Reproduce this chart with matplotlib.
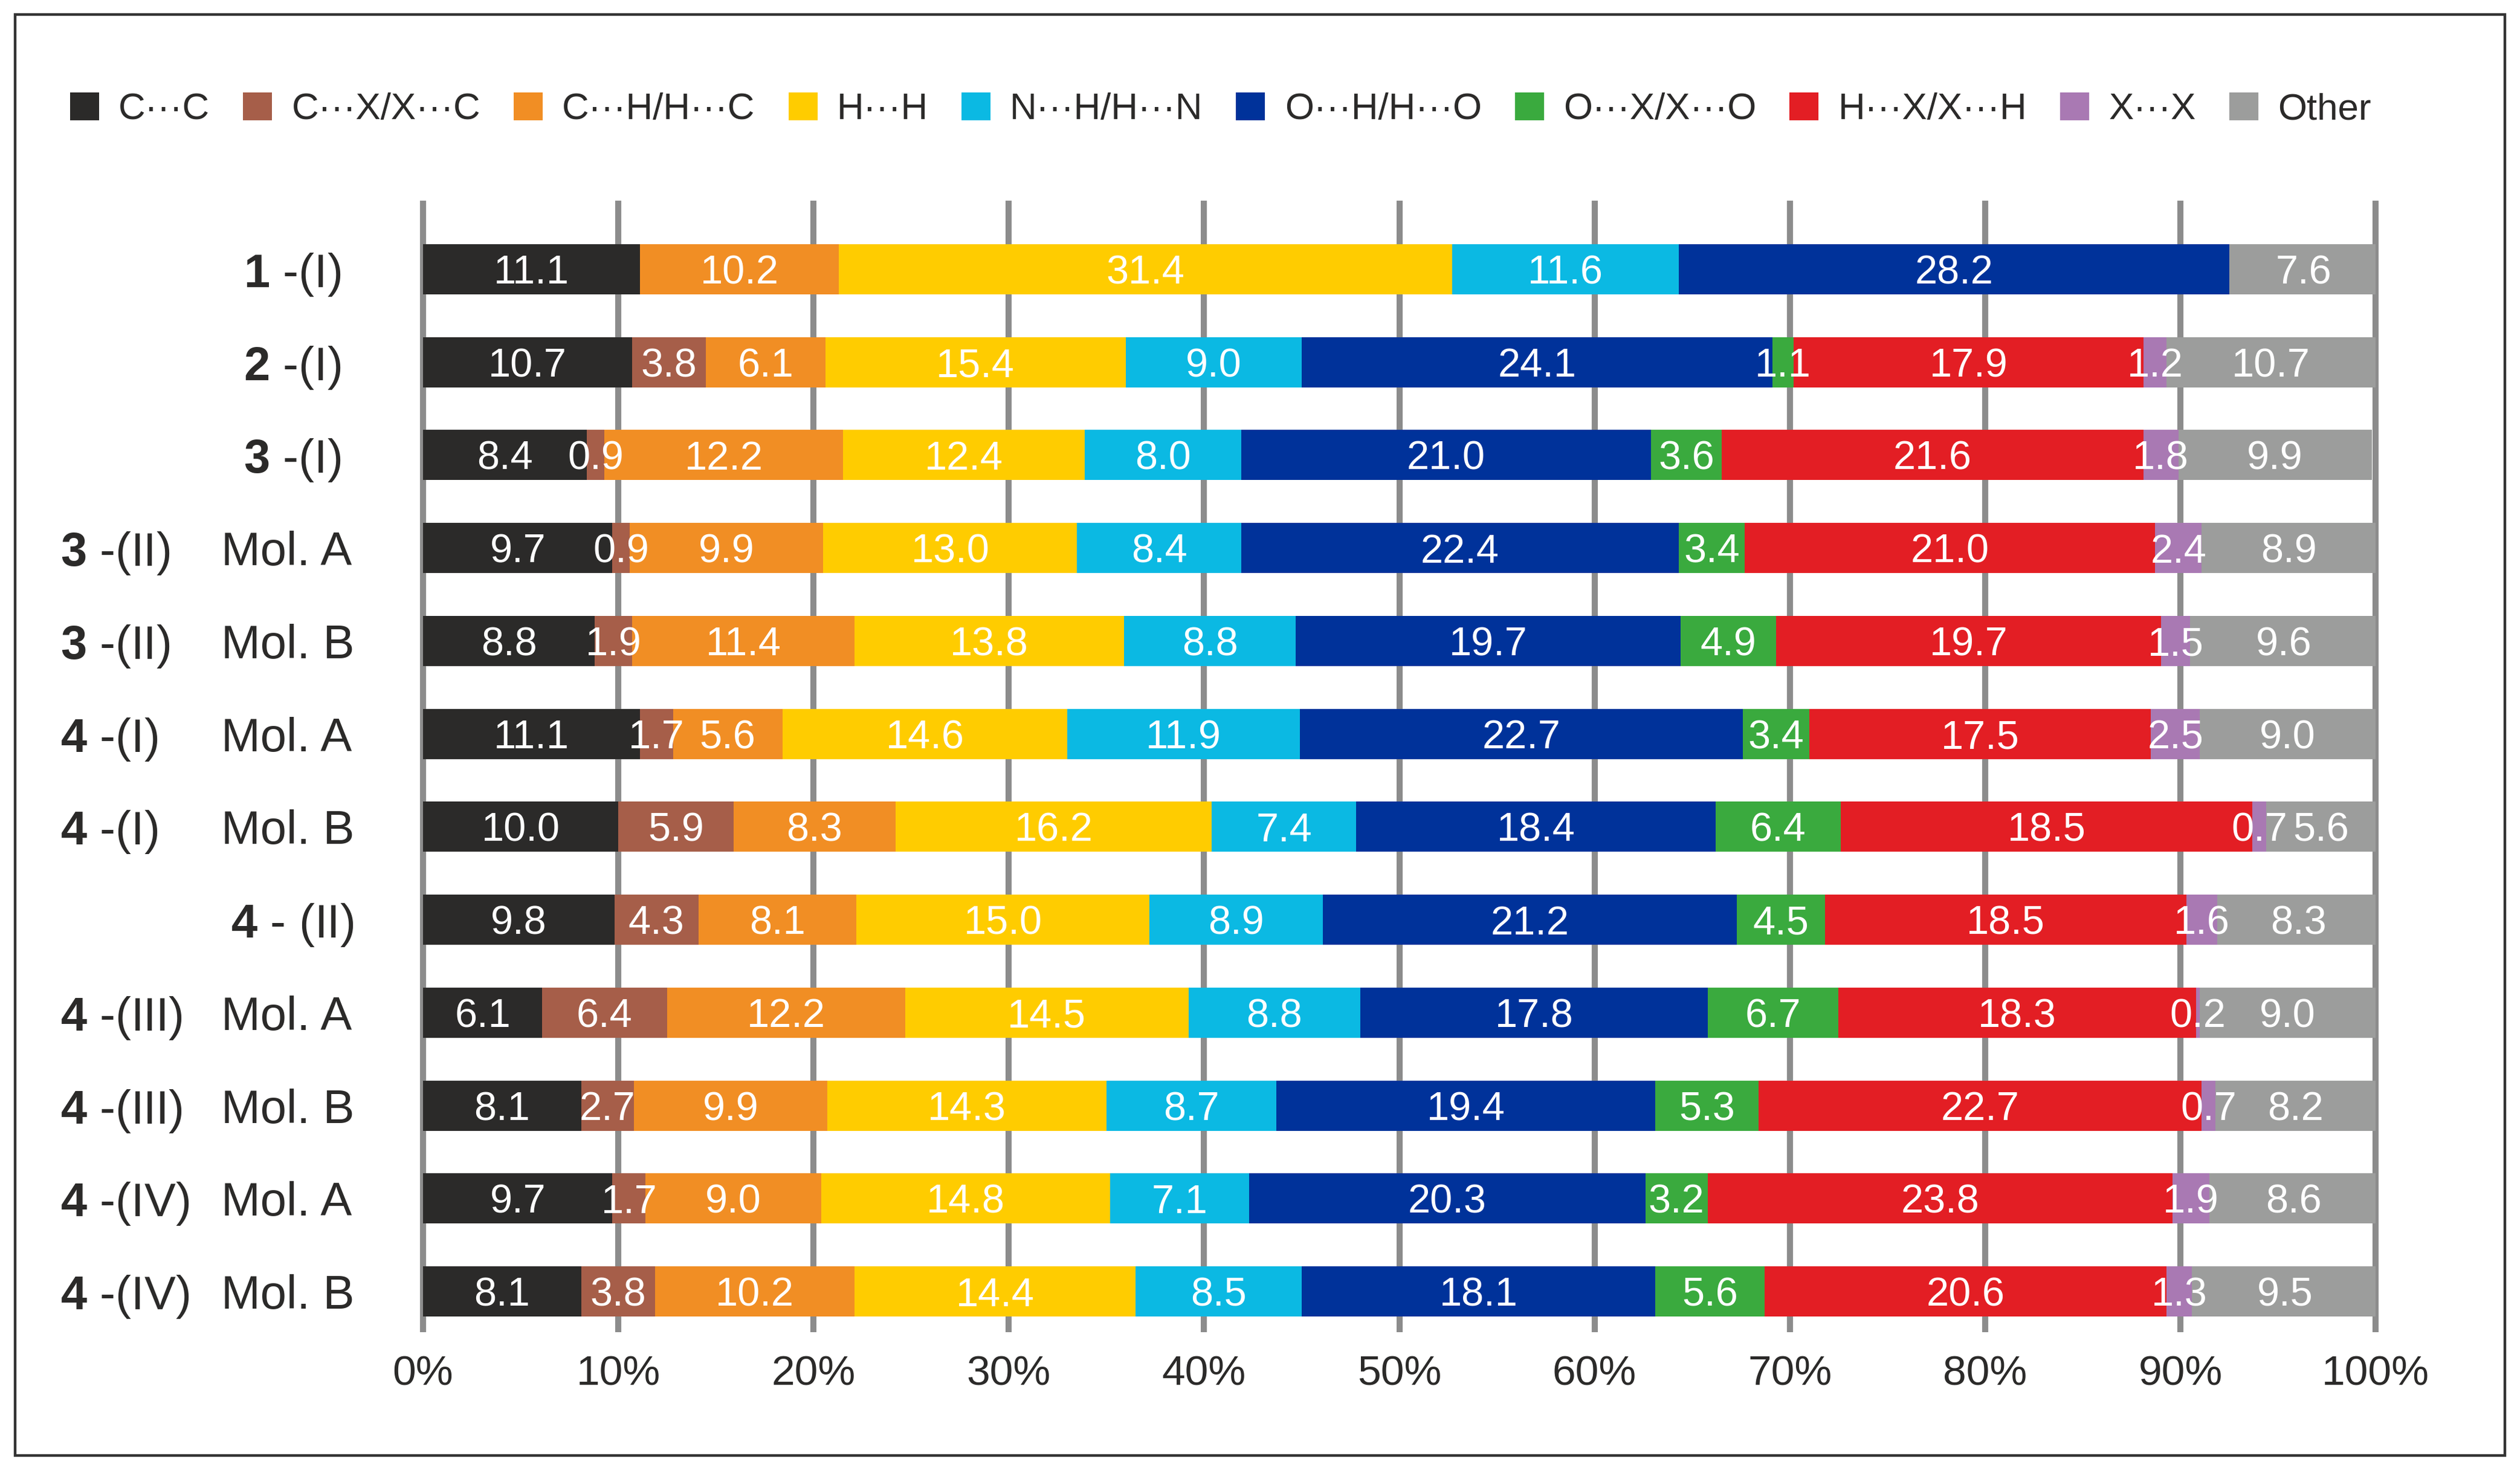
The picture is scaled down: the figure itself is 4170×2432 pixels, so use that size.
import matplotlib
matplotlib.use("Agg")
import matplotlib.pyplot as plt
import matplotlib.transforms as mtransforms
from matplotlib.patches import Patch, Rectangle
import numpy as np

plt.rcParams['font.family'] = ['Liberation Sans', 'DejaVu Sans']
plt.rcParams['mathtext.fontset'] = 'custom'
plt.rcParams['mathtext.rm'] = 'Liberation Sans'
plt.rcParams['mathtext.bf'] = 'Liberation Sans:bold'

# ---------------- data ----------------
compounds = ['1', '2', '3', '3', '3', '4', '4', '4', '4', '4', '4', '4']
forms = [' -(I)', ' -(I)', ' -(I)', ' -(II)', ' -(II)', ' -(I)', ' -(I)',
         ' - (II)', ' -(III)', ' -(III)', ' -(IV)', ' -(IV)']
molecules = ['', '', '', 'Mol. A', 'Mol. B', 'Mol. A', 'Mol. B', '',
             'Mol. A', 'Mol. B', 'Mol. A', 'Mol. B']

series_names = ['C···C', 'C···X/X···C', 'C···H/H···C', 'H···H', 'N···H/H···N',
                'O···H/H···O', 'O···X/X···O', 'H···X/X···H', 'X···X', 'Other']
series_colors = ['#2b2a29', '#a65e49', '#f18e24', '#ffcc00', '#0bb9e3',
                 '#00329a', '#3aaa3e', '#e31e24', '#a979b3', '#9c9d9c']

CC = [11.1, 10.7, 8.4, 9.7, 8.8, 11.1, 10.0, 9.8, 6.1, 8.1, 9.7, 8.1]
CX = [0.0, 3.8, 0.9, 0.9, 1.9, 1.7, 5.9, 4.3, 6.4, 2.7, 1.7, 3.8]
CH = [10.2, 6.1, 12.2, 9.9, 11.4, 5.6, 8.3, 8.1, 12.2, 9.9, 9.0, 10.2]
HH = [31.4, 15.4, 12.4, 13.0, 13.8, 14.6, 16.2, 15.0, 14.5, 14.3, 14.8, 14.4]
NH = [11.6, 9.0, 8.0, 8.4, 8.8, 11.9, 7.4, 8.9, 8.8, 8.7, 7.1, 8.5]
OH = [28.2, 24.1, 21.0, 22.4, 19.7, 22.7, 18.4, 21.2, 17.8, 19.4, 20.3, 18.1]
OX = [0.0, 1.1, 3.6, 3.4, 4.9, 3.4, 6.4, 4.5, 6.7, 5.3, 3.2, 5.6]
# 4-(I) Mol. B: the red segment is drawn ~21.1 wide, but its printed label reads 18.5
HX = [0.0, 17.9, 21.6, 21.0, 19.7, 17.5, 21.1, 18.5, 18.3, 22.7, 23.8, 20.6]
XX = [0.0, 1.2, 1.8, 2.4, 1.5, 2.5, 0.7, 1.6, 0.2, 0.7, 1.9, 1.3]
OT = [7.6, 10.7, 9.9, 8.9, 9.6, 9.0, 5.6, 8.3, 9.0, 8.2, 8.6, 9.5]
series_values = [CC, CX, CH, HH, NH, OH, OX, HX, XX, OT]
printed_label_override = {(7, 6): '18.5'}   # (series index, row index) -> text

x_ticks = list(range(0, 101, 10))
x_tick_labels = [f'{t}%' for t in x_ticks]

# ---------------- figure ----------------
W, H = 4170, 2432
DPI = 100
fig = plt.figure(figsize=(W / DPI, H / DPI), dpi=DPI)
fig.patch.set_facecolor('white')

ax_left, ax_right = 700 / W, 3931 / W
ax_top, ax_bottom = 1 - 332 / H, 1 - 2204 / H
ax = fig.add_axes([ax_left, ax_bottom, ax_right - ax_left, ax_top - ax_bottom])

n = len(compounds)
y = np.arange(n)
ylim_top, ylim_bot = -0.738, (n - 1) + 0.439
ax.set_xlim(0, 100)
ax.set_ylim(ylim_bot, ylim_top)

# vertical gridlines behind the bars
ax.vlines(x_ticks, ylim_top, ylim_bot, colors='#8c8c8c', linewidth=7.2,
          zorder=0.5, clip_on=False)

text_dark = '#2b2a29'
left = np.zeros(n)
for si, (name, col, vals) in enumerate(zip(series_names, series_colors, series_values)):
    vals = np.asarray(vals, dtype=float)
    ax.barh(y, vals, left=left, height=0.54, color=col, edgecolor='none',
            zorder=1, label=name)
    for ri in range(n):
        if vals[ri] <= 0:
            continue
        txt = printed_label_override.get((si, ri), f'{vals[ri]:.1f}')
        ax.text(left[ri] + vals[ri] / 2, y[ri], txt, ha='center',
                va='center_baseline', color='white', fontsize=48, zorder=3)
    left += vals

ax.set_xticks(x_ticks)
ax.set_xticklabels(x_tick_labels)
ax.tick_params(axis='x', length=0, pad=27, labelsize=50, colors=text_dark)
ax.set_yticks([])
for sp in ax.spines.values():
    sp.set_visible(False)

# category labels
tr = mtransforms.blended_transform_factory(fig.transFigure, ax.transData)
for ri in range(n):
    lab = r'$\mathbf{' + compounds[ri] + '}$' + forms[ri]
    if molecules[ri]:
        ax.text(100 / W, y[ri], lab, transform=tr, ha='left',
                va='center_baseline', fontsize=56, color=text_dark, clip_on=False)
        ax.text(366 / W, y[ri], molecules[ri], transform=tr, ha='left',
                va='center_baseline', fontsize=56, color=text_dark, clip_on=False)
    else:
        ax.text(484 / W, y[ri], lab, transform=tr, ha='center',
                va='center_baseline', fontsize=56, color=text_dark, clip_on=False)

# legend
handles = [Patch(facecolor=c, edgecolor='none', label=nm)
           for nm, c in zip(series_names, series_colors)]
fig.legend(handles=handles, loc='center left',
           bbox_to_anchor=(116 / W, 1 - 181.5 / H), ncol=len(handles),
           frameon=False, fontsize=44.5, handlelength=0.777, handleheight=0.777,
           handletextpad=0.52, columnspacing=0.89, borderpad=0,
           borderaxespad=0, labelcolor=text_dark)

# outer frame
fig.add_artist(Rectangle((25 / W, 1 - 2408 / H), (4145 - 25) / W, (2408 - 24) / H,
                         transform=fig.transFigure, fill=False,
                         edgecolor='#333333', linewidth=3.2))

fig.savefig('out.png', dpi=DPI, facecolor='white')
